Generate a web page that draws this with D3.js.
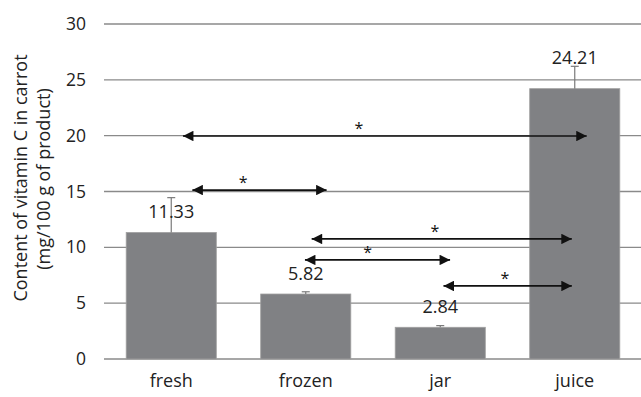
<!DOCTYPE html>
<html><head><meta charset="utf-8">
<script src="https://cdn.jsdelivr.net/npm/d3@7"></script>
<style>body{margin:0;background:#fff}svg{display:block}text{font-family:"Open Sans",sans-serif}</style>
</head><body>
<svg id="c" width="641" height="397"></svg>
<script>
const categories = ["fresh","frozen","jar","juice"];
const values = [11.33, 5.82, 2.84, 24.21];
const errors = [3.12, 0.2, 0.15, 2.0];
const yTicks = [0,5,10,15,20,25,30];
// significance arrows: from/to in category-position units (0..4), at value y
const arrowFrom = [0.587, 0.657, 1.544, 1.494, 2.524];
const arrowTo   = [3.589, 1.655, 3.478, 2.573, 3.478];
const arrowY    = [19.97, 15.13, 10.75, 8.87, 6.54];
const starX     = [1.895, 1.035, 2.460, 1.960, 2.980];
const starLabel = ["*","*","*","*","*"];

(function(){
const svg = d3.select("#c");
const mLeft = 104, mRight = 642, mTop = 24, mBottom = 359;
const x = d3.scaleBand().domain(categories).range([mLeft, mRight]).paddingInner(0.33).paddingOuter(0.165);
const xp = d3.scaleLinear().domain([0,4]).range([mLeft, mRight]);
const y = d3.scaleLinear().domain([0,30]).range([mBottom, mTop]);

svg.append("g").selectAll("line").data(yTicks).join("line")
  .attr("x1", mLeft).attr("x2", 641).attr("y1", d=>y(d)).attr("y2", d=>y(d))
  .attr("stroke", "#8a8a8a").attr("stroke-width", 1.3);

const yAxis = svg.append("g").attr("transform", `translate(${mLeft},0)`)
  .call(d3.axisLeft(y).tickValues(yTicks).tickSize(0).tickPadding(18));
yAxis.select(".domain").remove();
yAxis.selectAll("text").attr("font-size", 17.5).attr("fill", "#222").attr("font-family","Open Sans");

svg.append("g").selectAll("rect").data(values).join("rect")
  .attr("x", (d,i)=>x(categories[i])).attr("width", x.bandwidth())
  .attr("y", d=>y(d)).attr("height", d=>y(0)-y(d))
  .attr("fill", "#808184").attr("stroke", "#a0a0a0").attr("stroke-width", 0.8);

const eb = svg.append("g").attr("stroke", "#7a7a7a").attr("stroke-width", 1.2);
values.forEach((v,i)=>{
  const cx = x(categories[i]) + x.bandwidth()/2;
  eb.append("line").attr("x1",cx).attr("x2",cx).attr("y1",y(v)).attr("y2",y(v+errors[i]));
  eb.append("line").attr("x1",cx-4).attr("x2",cx+4).attr("y1",y(v+errors[i])).attr("y2",y(v+errors[i]));
});

svg.append("g").selectAll("text").data(values).join("text")
  .attr("x", (d,i)=>x(categories[i]) + x.bandwidth()/2)
  .attr("y", (d,i)=> i===3 ? y(d)-25 : y(d)-14)
  .attr("text-anchor","middle").attr("font-size", 18).attr("fill","#222")
  .text(d=>d.toFixed(2));

const xAxis = svg.append("g").attr("transform", `translate(0,${mBottom})`)
  .call(d3.axisBottom(x).tickSize(0).tickPadding(15));
xAxis.select(".domain").remove();
xAxis.selectAll("text").attr("font-size", 18).attr("fill","#222").attr("font-family","Open Sans");

const defs = svg.append("defs");
defs.append("marker").attr("id","ah").attr("viewBox","0 0 10 10").attr("refX",10).attr("refY",5)
  .attr("markerWidth",12).attr("markerHeight",10.5).attr("markerUnits","userSpaceOnUse").attr("orient","auto-start-reverse")
  .append("path").attr("d","M0,0 L10,5 L0,10 Z").attr("fill","#111");

const ag = svg.append("g");
arrowY.forEach((v,i)=>{
  ag.append("line").attr("x1", xp(arrowFrom[i])).attr("x2", xp(arrowTo[i]))
    .attr("y1", y(v)).attr("y2", y(v)).attr("stroke","#111").attr("stroke-width",1.7)
    .attr("marker-start","url(#ah)").attr("marker-end","url(#ah)");
  ag.append("text").attr("x", xp(starX[i])).attr("y", y(v)-2).attr("text-anchor","middle")
    .attr("font-size",16).attr("fill","#111").text(starLabel[i]);
});

svg.append("text").attr("transform","translate(27,178) rotate(-90)").attr("text-anchor","middle")
  .attr("font-size",18).attr("fill","#222").text("Content of vitamin C in carrot");
svg.append("text").attr("transform","translate(50,179) rotate(-90)").attr("text-anchor","middle")
  .attr("font-size",18).attr("fill","#222").text("(mg/100 g of product)");
})();
</script>
</body></html>
